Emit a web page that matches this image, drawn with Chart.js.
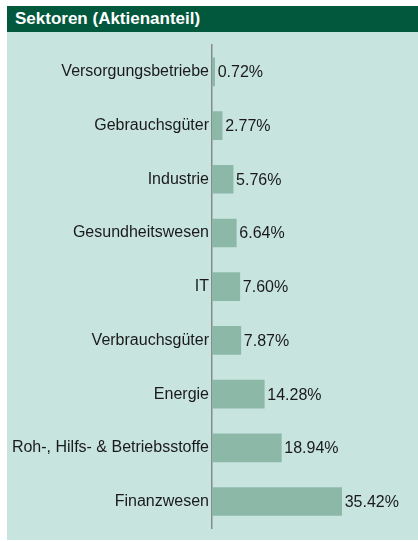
<!DOCTYPE html>
<html lang="de">
<head>
    <meta charset="UTF-8">
    <title>Sektoren (Aktienanteil)</title>
    <script src="https://cdn.jsdelivr.net/npm/chart.js@4/dist/chart.umd.min.js"></script>
    <style>
        body { margin: 0; background: #fff; width: 418px; height: 541px; overflow: hidden; position: relative; }
        .header {
            position: absolute; left: 7px; top: 6px; width: 411px; height: 26px;
            background: #02583d; color: #fff;
            font: bold 17px "Liberation Sans", Arial, sans-serif;
            line-height: 26px; padding-left: 8px; box-sizing: border-box;
        }
        .panel { position: absolute; left: 7px; top: 32px; width: 411px; height: 508px; background: #c8e4df; }
        #sectorChart { position: absolute; left: 0; top: 0; }
    </style>
</head>
<body>
<div class="panel"></div>
<div class="header">Sektoren (Aktienanteil)</div>
<canvas id="sectorChart" width="418" height="541"></canvas>

<script>
    // Sektoren und Anteile in Prozent
    const sectors = [
        'Versorgungsbetriebe',
        'Gebrauchsgüter',
        'Industrie',
        'Gesundheitswesen',
        'IT',
        'Verbrauchsgüter',
        'Energie',
        'Roh-, Hilfs- & Betriebsstoffe',
        'Finanzwesen'
    ];
    const shares = [0.72, 2.77, 5.76, 6.64, 7.60, 7.87, 14.28, 18.94, 35.42];

    const valueLabels = {
        id: 'valueLabels',
        afterDatasetsDraw(chart) {
            const ctx = chart.ctx;
            const meta = chart.getDatasetMeta(0);
            ctx.save();
            ctx.font = '16px "Liberation Sans", Arial, sans-serif';
            ctx.fillStyle = '#1a1a1a';
            ctx.textAlign = 'left';
            ctx.textBaseline = 'middle';
            meta.data.forEach((bar, i) => {
                ctx.fillText(shares[i].toFixed(2) + '%', bar.x + 3, bar.y + 1);
            });
            ctx.restore();
        }
    };

    new Chart(document.getElementById('sectorChart'), {
        type: 'bar',
        data: {
            labels: sectors,
            datasets: [{
                data: shares,
                backgroundColor: '#8cb8a8',
                borderWidth: 0,
                barThickness: 28
            }]
        },
        options: {
            indexAxis: 'y',
            responsive: false,
            animation: false,
            layout: { padding: { top: 45, bottom: 9, left: 0, right: 23 } },
            plugins: { legend: { display: false }, tooltip: { enabled: false } },
            scales: {
                x: { display: false, min: 0, max: 50 },
                y: {
                    grid: { display: false, drawTicks: false },
                    border: { display: true, color: '#8a8a8a', width: 1.5 },
                    ticks: {
                        color: '#1a1a1a',
                        padding: 3,
                        font: { family: '"Liberation Sans", Arial, sans-serif', size: 16 }
                    },
                    afterFit(scale) { scale.width = 212; }
                }
            }
        },
        plugins: [valueLabels]
    });
</script>
</body>
</html>
